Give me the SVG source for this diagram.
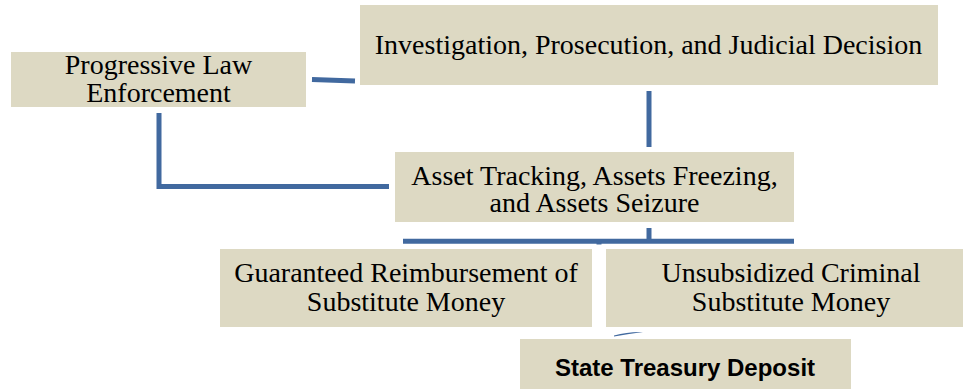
<svg xmlns="http://www.w3.org/2000/svg" width="965" height="389" viewBox="0 0 965 389">
<style>
.box{fill:#DDD9C3}
.t{font-family:'Liberation Serif',serif;font-size:28px;fill:#000;text-anchor:middle}
.b{font-family:'Liberation Sans',sans-serif;font-size:24px;font-weight:bold;fill:#000;text-anchor:middle}
.c{fill:none;stroke:#41699F;stroke-width:5}
</style>
<rect width="965" height="389" fill="#fff"/>
<g id="connectors">
<path class="c" d="M312,79.5 L355,81"/>
<path class="c" d="M159,113 V186.5 H389"/>
<path class="c" d="M649,91 V147" stroke-width="6"/>
<path class="c" d="M403,241.3 H794" stroke-width="4"/>
<path class="c" d="M649,228 V241" stroke-width="5.5"/>
<path class="c" d="M599,241 V244.5" stroke-width="4"/>
<path d="M614,335.5 Q628,331.5 643,332 Q628,334 614,336.5 Z" fill="#41699F"/>
</g>
<g id="progressive">
<rect class="box" x="11" y="52" width="295" height="55"/>
<text class="t" font-family="Liberation Serif" x="158.5" y="74">Progressive Law</text>
<text class="t" font-family="Liberation Serif" x="158.5" y="102">Enforcement</text>
</g>
<g id="investigation">
<rect class="box" x="360" y="5" width="578" height="80"/>
<text class="t" font-family="Liberation Serif" x="648.5" y="54">Investigation, Prosecution, and Judicial Decision</text>
</g>
<g id="asset">
<rect class="box" x="395" y="152" width="399" height="70"/>
<text class="t" font-family="Liberation Serif" x="594.5" y="185">Asset Tracking, Assets Freezing,</text>
<text class="t" font-family="Liberation Serif" x="594.5" y="212">and Assets Seizure</text>
</g>
<g id="guaranteed">
<rect class="box" x="220" y="249" width="372" height="78"/>
<text class="t" font-family="Liberation Serif" x="406" y="281.5">Guaranteed Reimbursement of</text>
<text class="t" font-family="Liberation Serif" x="406" y="310.5">Substitute Money</text>
</g>
<g id="unsubsidized">
<rect class="box" x="606" y="249" width="357" height="78"/>
<text class="t" font-family="Liberation Serif" x="791" y="281.5">Unsubsidized Criminal</text>
<text class="t" font-family="Liberation Serif" x="791" y="310.5">Substitute Money</text>
</g>
<g id="treasury">
<rect class="box" x="520" y="339" width="331" height="55"/>
<text class="b" x="685" y="375.5">State Treasury Deposit</text>
</g>
</svg>
